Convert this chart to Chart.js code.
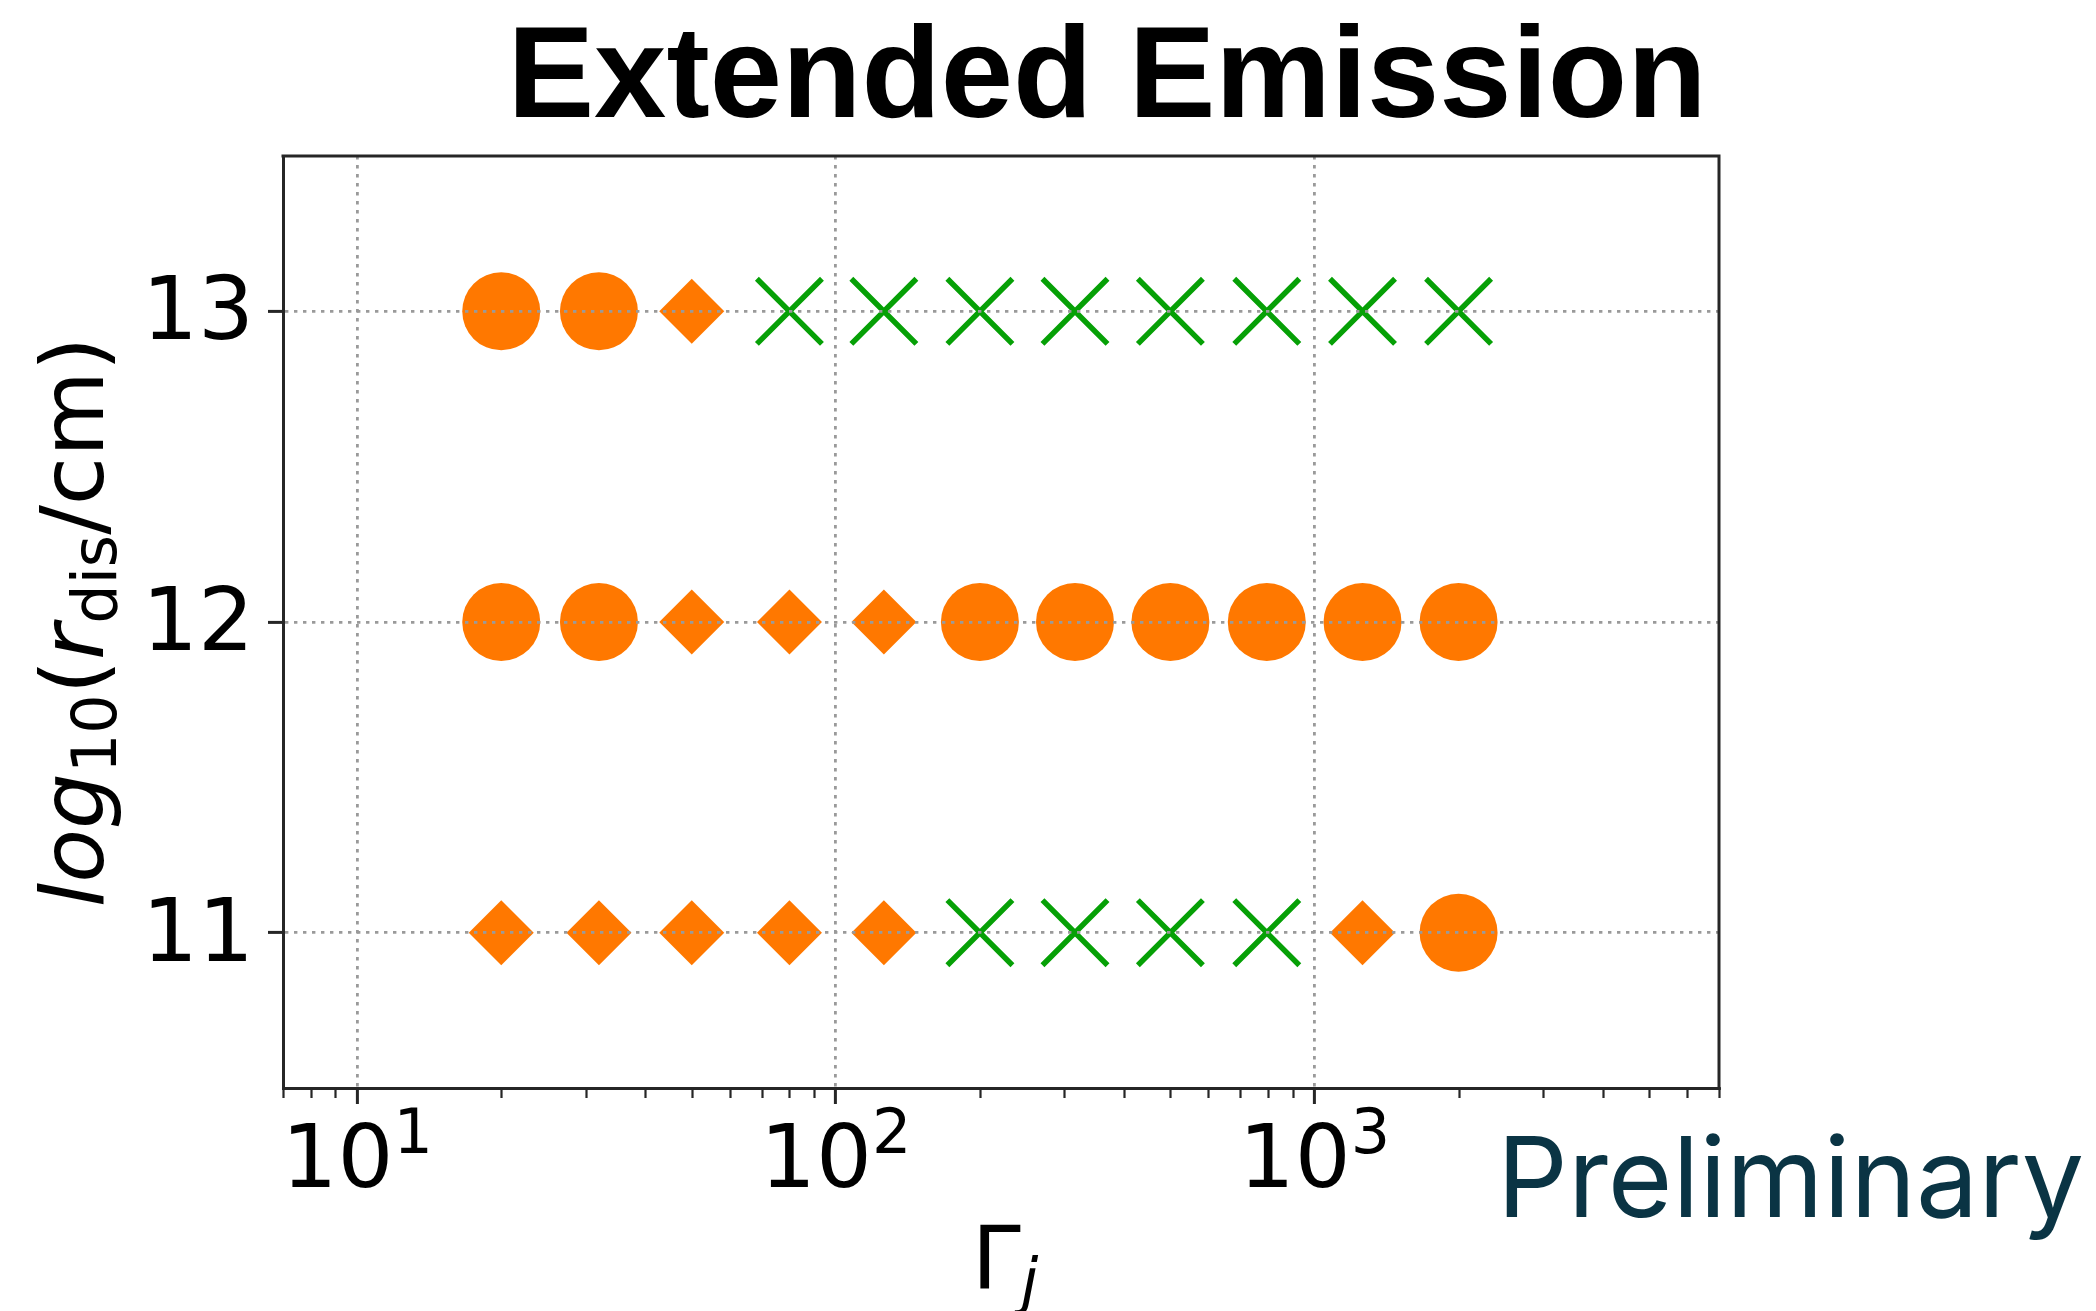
<!DOCTYPE html>
<html>
<head>
<meta charset="utf-8">
<script src="https://cdn.jsdelivr.net/npm/chart.js@4.4.1/dist/chart.umd.min.js"></script>
<style>
  html, body { margin: 0; padding: 0; background: #ffffff; }
  #wrap { width: 2096px; height: 1311px; position: relative; }
</style>
</head>
<body>
<div id="wrap"><canvas id="chart" width="2096" height="1311"></canvas></div>
<script>
// Jet Lorentz factors scanned (x) and log10 dissipation radii (rows)
const gammaJ = [20, 32, 50, 80, 126, 200, 316, 500, 795, 1260, 2000];
const logRdis = [13, 12, 11];

// Outcome marker for each Gamma_j in a row: 'o' circle, 'D' diamond, 'x' cross
const markersR13 = ['o', 'o', 'D', 'x', 'x', 'x', 'x', 'x', 'x', 'x', 'x'];
const markersR12 = ['o', 'o', 'D', 'D', 'D', 'o', 'o', 'o', 'o', 'o', 'o'];
const markersR11 = ['D', 'D', 'D', 'D', 'D', 'x', 'x', 'x', 'x', 'D', 'o'];

// Axis ticks
const xMajorTicks = [10, 100, 1000];
const xTickBase = ['10', '10', '10'];
const xTickExp = ['1', '2', '3'];
const xMinorTicks = [7, 8, 9, 20, 30, 40, 50, 60, 70, 80, 90,
                     200, 300, 400, 500, 600, 700, 800, 900,
                     2000, 3000, 4000, 5000, 6000, 7000];
const yTicks = [11, 12, 13];
const yTickLabels = ['11', '12', '13'];

const ORANGE = '#ff7800';
const GREEN = '#06a006';
const SPINE = '#262626';
const GRID = '#9a9a9a';

const rows = [markersR13, markersR12, markersR11];
function pointsFor(code) {
  const pts = [];
  rows.forEach((row, r) => row.forEach((m, i) => {
    if (m === code) pts.push({ x: gammaJ[i], y: logRdis[r] });
  }));
  return pts;
}
const isMajorX = v => xMajorTicks.indexOf(v) >= 0;

// Extra drawing: minor ticks, closing spines, title, power-of-ten labels,
// rich axis labels and the stamp
const decorations = {
  id: 'decorations',
  afterDraw(chart) {
    const { ctx, chartArea: a } = chart;
    const xs = chart.scales.x;
    ctx.save();

    // minor ticks on the log axis
    ctx.strokeStyle = SPINE;
    ctx.lineWidth = 2.2;
    xs.ticks.forEach(t => {
      if (isMajorX(t.value)) return;
      const px = Math.round(xs.getPixelForValue(t.value)) + 0.5;
      ctx.beginPath();
      ctx.moveTo(px, a.bottom);
      ctx.lineTo(px, a.bottom + 10);
      ctx.stroke();
    });

    // top and right spines
    ctx.lineWidth = 3;
    ctx.beginPath();
    ctx.moveTo(a.left - 1.5, a.top);
    ctx.lineTo(a.right, a.top);
    ctx.lineTo(a.right, a.bottom + 1.5);
    ctx.stroke();

    // title
    ctx.fillStyle = '#000';
    ctx.font = 'bold 130px "Liberation Sans"';
    ctx.textAlign = 'center';
    ctx.textBaseline = 'alphabetic';
    ctx.fillText('Extended Emission', 1107, 117);

    // stamp
    ctx.fillStyle = '#0a3444';
    ctx.font = '111px Inter';
    ctx.textAlign = 'left';
    ctx.fillText('Preliminary', 1497, 1217);

    // rich text helper
    const FS = 88, SUB = 0.7, DROP = 13;
    const fontOf = s => (s.it ? 'italic ' : '') + Math.round(s.sub || s.sup ? FS * SUB : FS) + 'px "DejaVu Sans"';
    const widthOf = segs => segs.reduce((w, s) => { ctx.font = fontOf(s); return w + ctx.measureText(s.t).width; }, 0);
    const drawSegs = (segs, x0) => {
      let x = x0;
      segs.forEach(s => {
        ctx.font = fontOf(s);
        ctx.fillText(s.t, x, s.sub ? DROP : (s.sup ? -34 : 0));
        x += ctx.measureText(s.t).width;
      });
    };
    ctx.fillStyle = '#000';
    ctx.textAlign = 'left';
    ctx.textBaseline = 'alphabetic';

    // power-of-ten tick labels, centred on their ticks
    xMajorTicks.forEach((v, k) => {
      const segs = [{ t: xTickBase[k] }, { t: xTickExp[k], sup: true }];
      ctx.save();
      ctx.translate(xs.getPixelForValue(v), 1187);
      drawSegs(segs, -widthOf(segs) / 2);
      ctx.restore();
    });

    // y axis label
    const ySegs = [
      { t: 'log', it: true }, { t: '10', sub: true }, { t: '(' },
      { t: 'r', it: true }, { t: 'dis', sub: true }, { t: '/cm)' }
    ];
    ctx.save();
    ctx.translate(103, (a.top + a.bottom) / 2);
    ctx.rotate(-Math.PI / 2);
    drawSegs(ySegs, -widthOf(ySegs) / 2);
    ctx.restore();

    // x axis label
    const xSegs = [{ t: 'Γ' }, { t: 'j', it: true, sub: true }];
    ctx.save();
    ctx.translate((a.left + a.right) / 2 + 4, 1289);
    drawSegs(xSegs, -widthOf(xSegs) / 2);
    ctx.restore();

    ctx.restore();
  }
};

new Chart(document.getElementById('chart'), {
  type: 'scatter',
  data: {
    datasets: [
      {
        label: 'circle',
        data: pointsFor('o'),
        pointStyle: 'circle',
        pointRadius: 39,
        pointHoverRadius: 39,
        pointBackgroundColor: ORANGE,
        pointBorderWidth: 0
      },
      {
        label: 'diamond',
        data: pointsFor('D'),
        pointStyle: 'rectRot',
        pointRadius: 32.5,
        pointHoverRadius: 32.5,
        pointBackgroundColor: ORANGE,
        pointBorderWidth: 0
      },
      {
        label: 'cross',
        data: pointsFor('x'),
        pointStyle: 'crossRot',
        pointRadius: 46,
        pointHoverRadius: 46,
        pointBorderColor: GREEN,
        pointBackgroundColor: GREEN,
        pointBorderWidth: 5.5
      }
    ]
  },
  options: {
    responsive: false,
    animation: false,
    events: [],
    layout: { padding: { top: 156, right: 377, bottom: 0, left: 0 } },
    plugins: {
      legend: { display: false },
      tooltip: { enabled: false },
      title: { display: false }
    },
    scales: {
      x: {
        type: 'logarithmic',
        position: 'bottom',
        min: 7,
        max: 7000,
        afterBuildTicks: s => {
          s.ticks = xMinorTicks.concat(xMajorTicks).sort((p, q) => p - q)
            .map(v => ({ value: v, major: isMajorX(v) }));
        },
        afterFit: s => { s.height = 223; },
        ticks: { display: false, autoSkip: false },
        grid: {
          z: 1,
          color: c => (c.tick && isMajorX(c.tick.value)) ? GRID : 'rgba(0,0,0,0)',
          lineWidth: 2.8,
          drawTicks: true,
          tickLength: 16,
          tickWidth: 3,
          tickColor: c => (c.tick && isMajorX(c.tick.value)) ? SPINE : 'rgba(0,0,0,0)'
        },
        border: { display: true, z: 1, color: SPINE, width: 3, dash: [3.4, 5.6] }
      },
      y: {
        type: 'linear',
        min: 10.5,
        max: 13.5,
        afterBuildTicks: s => { s.ticks = yTicks.map(v => ({ value: v })); },
        afterFit: s => { s.width = 283; },
        ticks: {
          padding: 14,
          labelOffset: 5,
          color: '#000',
          font: { family: 'DejaVu Sans', size: 88 },
          callback: v => { const k = yTicks.indexOf(v); return k >= 0 ? yTickLabels[k] : ''; }
        },
        grid: {
          z: 1,
          color: GRID,
          lineWidth: 2.8,
          drawTicks: true,
          tickLength: 15,
          tickWidth: 3,
          tickColor: SPINE
        },
        border: { display: true, z: 1, color: SPINE, width: 3, dash: [3.4, 5.6] }
      }
    }
  },
  plugins: [decorations]
});
</script>
</body>
</html>
